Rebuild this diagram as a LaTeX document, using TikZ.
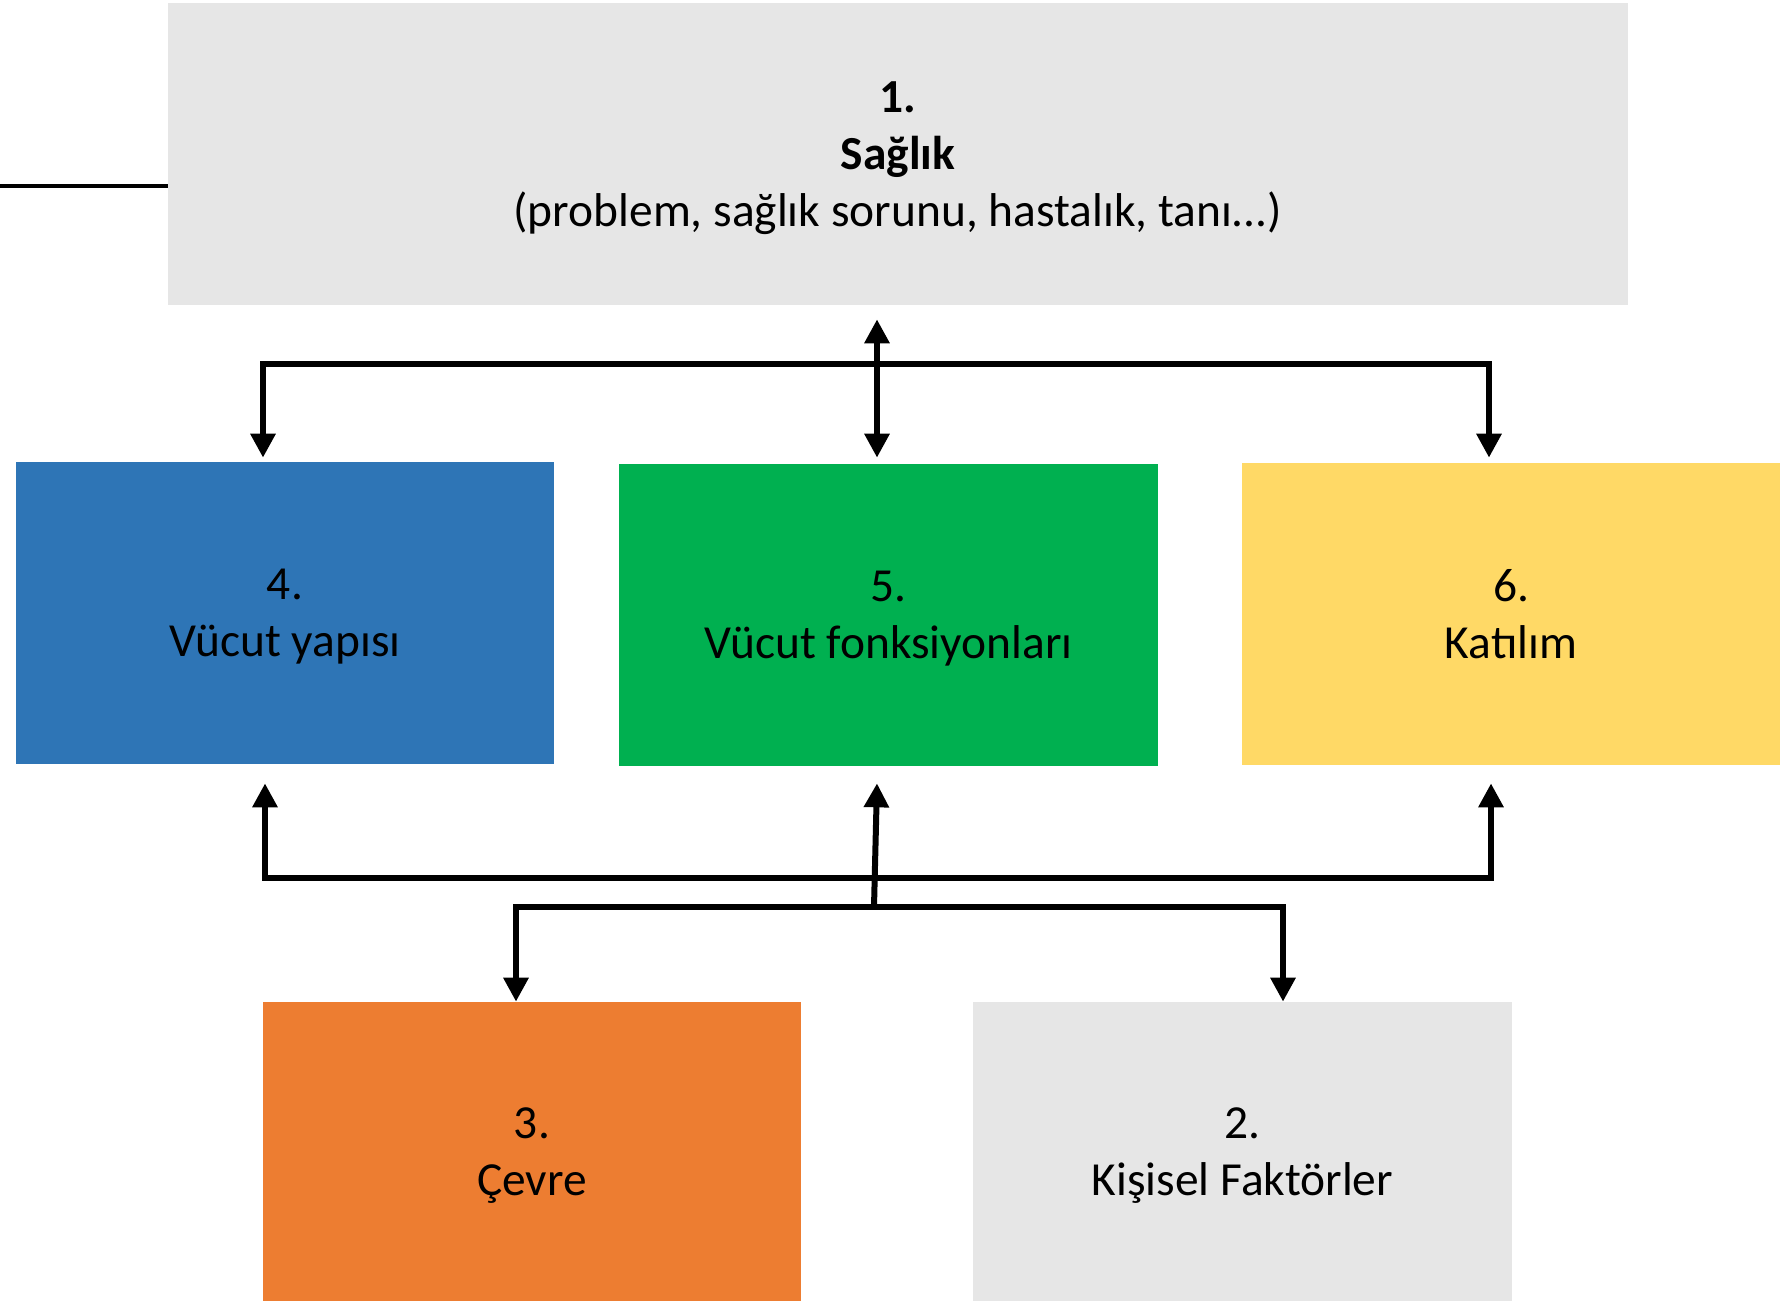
\documentclass[tikz,border=0pt]{standalone}
\usepackage{fontspec}
\setmainfont{Carlito}
\usetikzlibrary{arrows.meta,calc}
\definecolor{boxgrey}{HTML}{E6E6E6}
\definecolor{boxblue}{HTML}{2E75B6}
\definecolor{boxgreen}{HTML}{00B050}
\definecolor{boxyellow}{HTML}{FFD966}
\definecolor{boxorange}{HTML}{ED7D31}
\tikzset{
  px/.style={x=0.02cm,y=-0.02cm},
  box/.style={rectangle, draw=none, inner sep=0pt, align=center, text depth=0pt,
    font=\fontsize{27}{32.4}\selectfont, text=black},
  conn/.style={line width=0.12cm, line join=miter, line cap=butt},
  tip/.tip={Triangle[length=0.48cm,width=0.48cm]}
}
\begin{document}
\begin{tikzpicture}[px]
\useasboundingbox (0,0) rectangle (1785,1301);
\fill[white] (0,0) rectangle (1785,1301);
% boxes
\node[box, fill=boxgrey, minimum width=29.2cm, minimum height=6.04cm] (top) at (898,154)
  {\textbf{1.}\\ \textbf{Sağlık}\\ (problem, sağlık sorunu, hastalık, tanı...)};
\node[box, fill=boxblue, minimum width=10.76cm, minimum height=6.04cm] (blue) at (285,613)
  {4.\\ Vücut yapısı};
\node[box, fill=boxgreen, minimum width=10.78cm, minimum height=6.04cm] (green) at (888.5,615)
  {5.\\ Vücut fonksiyonları};
\node[box, fill=boxyellow, minimum width=10.76cm, minimum height=6.04cm] (yellow) at (1511,614)
  {6.\\ Katılım};
\node[box, fill=boxorange, minimum width=10.76cm, minimum height=5.98cm] (orange) at (532,1151.5)
  {3.\\ Çevre};
\node[box, fill=boxgrey, minimum width=10.78cm, minimum height=5.98cm] (personal) at (1242.5,1151.5)
  {2.\\ Kişisel Faktörler};
% free line on the left
\coordinate (leftend) at (0,186);
\draw[line width=0.08cm] (leftend) -- (leftend -| top.west);
% upper connectors
\coordinate (uL) at (263,364);
\coordinate (uR) at (1489,364);
\coordinate (uC) at (877,364);
\draw[conn, {tip}-{tip}] ($(uL |- blue.north)+(0,-4)$) -- (uL) -- (uR) -- ($(uR |- yellow.north)+(0,-5)$);
\draw[conn, {tip}-{tip}] ($(uC |- top.south)+(0,14)$) -- ($(uC |- green.north)+(0,-6)$);
% lower connectors
\coordinate (lL) at (265,878);
\coordinate (lR) at (1491,878);
\coordinate (lC) at (877,878);
\coordinate (bL) at (516,907);
\coordinate (bR) at (1283,907);
\coordinate (bC) at (874,907);
\draw[conn, {tip}-{tip}] ($(lL |- blue.south)+(0,19)$) -- (lL) -- (lR) -- ($(lR |- yellow.south)+(0,18)$);
\draw[conn, {tip}-{tip}] (bL |- orange.north) -- (bL) -- (bR) -- (bR |- personal.north);
\draw[conn, -{tip}] (bC) -- ($(lC |- green.south)+(0,17)$);
\end{tikzpicture}
\end{document}
